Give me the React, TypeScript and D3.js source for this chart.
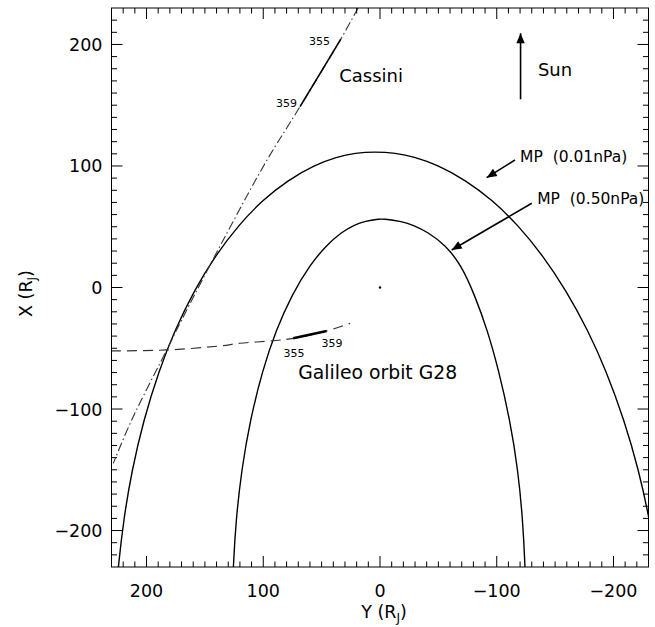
import React from 'react';
import * as d3 from 'd3';

// all positions below are [Y, X] in R_J (Y runs right-to-left)
// magnetopause for 0.01 nPa dynamic pressure
const mpLowPressure: [number, number][] = [
  [225.4, -244.8], [224.2, -230.0], [219.7, -191.3], [212.5, -150.2], [202.5, -109.0],
  [189.2, -67.9], [175.7, -35.0], [159.0, -2.1], [140.7, 26.7], [121.1, 51.4],
  [100.5, 72.0], [78.7, 88.5], [55.9, 100.8], [37.2, 107.4], [21.1, 110.7], [4.3, 111.8],
  [-13.1, 110.7], [-29.8, 107.4], [-49.3, 100.8], [-73.2, 88.5], [-96.1, 72.0],
  [-118.2, 51.4], [-139.2, 26.7], [-159.2, -2.1], [-178.0, -35.0], [-193.5, -67.9],
  [-209.2, -109.0], [-221.6, -150.2], [-231.0, -191.3], [-237.5, -230.0],
];
// magnetopause for 0.50 nPa
const mpHighPressure: [number, number][] = [
  [126.1, -244.8], [125.7, -230.0], [123.4, -191.3], [118.6, -150.2], [111.2, -109.0],
  [100.6, -67.9], [89.0, -35.0], [75.6, -6.2], [60.1, 18.5], [45.8, 34.9], [32.7, 45.7],
  [22.3, 51.4], [12.9, 54.7], [0, 56.4], [-2.6, 56.4], [-17.6, 54.7], [-28.6, 51.4],
  [-40.7, 45.7], [-56.1, 34.9], [-69.5, 18.5], [-81.1, -6.2], [-92.0, -35.0],
  [-101.6, -67.9], [-111.3, -109.0], [-118.2, -150.2], [-122.3, -191.3],
  [-124.3, -230.0], [-124.6, -244.8],
];
const cassiniOrbit: [number, number][] = [
  [18.8, 230.0], [33.7, 204.2], [68.5, 148.8], [96.8, 104.9], [131.1, 44.8],
  [169.9, -26.7], [182.7, -51.4], [212.7, -109.0], [228.5, -144.7],
];
const galileoOrbit: [number, number][] = [
  [230.4, -52.2], [182.7, -51.4], [137.0, -48.1], [120.0, -45.9], [91.4, -43.8],
  [74.3, -41.8], [45.7, -35.8], [25.7, -29.5],
];
// day-of-year marks along each track
const cassiniDays = [
  { day: '355', pos: [33.7, 204.2], dx: -10.7, dy: 5.7, anchor: 'end' },
  { day: '359', pos: [68.5, 148.8], dx: -3, dy: 0, anchor: 'end' },
];
const galileoDays = [
  { day: '355', pos: [74.3, -41.8], dx: 0.7, dy: 18.7, anchor: 'middle' },
  { day: '359', pos: [45.7, -35.8], dx: 5.3, dy: 16, anchor: 'middle' },
];
const majorTicks = [-200, -100, 0, 100, 200];

const W = 655, H = 627;
const FONT = 'DejaVu Sans';

function arrowHead(x1: number, y1: number, x2: number, y2: number, len = 10, half = 4) {
  const d = Math.hypot(x2 - x1, y2 - y1);
  const ux = (x2 - x1) / d, uy = (y2 - y1) / d;
  const bx = x2 - ux * len, by = y2 - uy * len;
  return `${x2},${y2} ${bx - uy * half},${by + ux * half} ${bx + uy * half},${by - ux * half}`;
}

export default function App() {
  const x = d3.scaleLinear().domain([230, -230]).range([111.5, 648.5]);
  const y = d3.scaleLinear().domain([-230, 230]).range([567, 8]);
  const [x0, x1] = x.range();
  const [y0, y1] = [y(230), y(-230)];

  const smooth = d3.line<[number, number]>()
    .x(d => x(d[0]))
    .y(d => y(d[1]))
    .curve(d3.curveBasis);
  const line = d3.line<[number, number]>()
    .x(d => x(d[0]))
    .y(d => y(d[1]))
    .curve(d3.curveCatmullRom.alpha(0.5));
  const straight = d3.line<[number, number]>().x(d => x(d[0])).y(d => y(d[1]));

  const minor = d3.range(-220, 230, 10);
  const tickLen = (v: number) => (v % 100 === 0 ? 11 : 5.5);
  const fmt = (v: number) => (v < 0 ? '\u2212' + Math.abs(v) : String(v));

  const arrows = [
    { from: [-120.4, 154.9], to: [-120.4, 209.2] },
    { from: [-115.6, 104.9], to: [-91.4, 90.4] },
    { from: [-130.0, 69.3], to: [-61.4, 30.9] },
  ];
  const notes = [
    { text: 'Cassini', pos: [34.9, 169.4], size: 18 },
    { text: 'Sun', pos: [-135.3, 174], size: 18 },
    { text: 'Galileo orbit G28', pos: [70, -75.3], size: 18.8 },
    { text: 'MP\u00a0\u00a0(0.01nPa)', pos: [-120, 103.5], size: 15.5 },
    { text: 'MP\u00a0\u00a0(0.50nPa)', pos: [-134.7, 68.7], size: 15.5 },
  ];

  return (
    <svg width={W} height={H} style={{ display: 'block', position: 'absolute', left: 0, top: 0 }}
      fontFamily={FONT}>
      <rect width={W} height={H} fill="#fff" />
      <defs>
        <clipPath id="plot">
          <rect x={x0} y={y0} width={x1 - x0} height={y1 - y0} />
        </clipPath>
      </defs>

      <g clipPath="url(#plot)" fill="none">
        <path d={smooth(mpLowPressure) || ''} stroke="#000" strokeWidth={1.4} />
        <path d={smooth(mpHighPressure) || ''} stroke="#000" strokeWidth={1.4} />
        <path d={line(cassiniOrbit) || ''} stroke="#333" strokeWidth={1.1} strokeDasharray="9,3,1.5,3" />
        <path d={straight(cassiniOrbit.slice(1, 3)) || ''} stroke="#000" strokeWidth={1.6} />
        <path d={line(galileoOrbit) || ''} stroke="#333" strokeWidth={1.2} strokeDasharray="10,6" />
        <path d={straight(galileoOrbit.slice(5, 7)) || ''} stroke="#000" strokeWidth={2.6} />
        <circle cx={x(0)} cy={y(0)} r={1.2} fill="#000" />
      </g>

      {cassiniDays.concat(galileoDays).map((d, i) => (
        <text key={'d' + i} x={x(d.pos[0]) + d.dx} y={y(d.pos[1]) + d.dy} fontSize={11}
          textAnchor={d.anchor as any}>{d.day}</text>
      ))}

      {arrows.map((a, i) => {
        const ax1 = x(a.from[0]), ay1 = y(a.from[1]), ax2 = x(a.to[0]), ay2 = y(a.to[1]);
        return (
          <g key={'a' + i}>
            <line x1={ax1} y1={ay1} x2={ax2} y2={ay2} stroke="#000" strokeWidth={1.6} />
            <polygon points={arrowHead(ax1, ay1, ax2, ay2, 10, 4.2)} fill="#000" />
          </g>
        );
      })}

      {notes.map((n, i) => (
        <text key={'n' + i} x={x(n.pos[0])} y={y(n.pos[1])} fontSize={n.size}>{n.text}</text>
      ))}

      {/* frame and ticks on all four sides */}
      <rect x={x0} y={y0} width={x1 - x0} height={y1 - y0} fill="none" stroke="#000" strokeWidth={1} />
      <g stroke="#000" strokeWidth={1}>
        {minor.map(v => (
          <g key={'t' + v}>
            <line x1={x(v)} x2={x(v)} y1={y1} y2={y1 - tickLen(v)} />
            <line x1={x(v)} x2={x(v)} y1={y0} y2={y0 + tickLen(v)} />
            <line x1={x0} x2={x0 + tickLen(v)} y1={y(v)} y2={y(v)} />
            <line x1={x1} x2={x1 - tickLen(v)} y1={y(v)} y2={y(v)} />
          </g>
        ))}
      </g>
      {majorTicks.map(v => (
        <g key={'l' + v} fontSize={17.5}>
          <text x={x(v)} y={y1 + 30} textAnchor="middle">{fmt(v)}</text>
          <text x={x0 - 9} y={y(v) + 6.5} textAnchor="end">{fmt(v)}</text>
        </g>
      ))}

      <text x={(x0 + x1) / 2 + 4} y={618} fontSize={17.5} textAnchor="middle">
        Y (R<tspan fontSize={12} dy={4}>J</tspan><tspan dy={-4}>)</tspan>
      </text>
      <text transform={`translate(31.5,${(y0 + y1) / 2 + 6}) rotate(-90)`} fontSize={17.5} textAnchor="middle">
        X (R<tspan fontSize={12} dy={4}>J</tspan><tspan dy={-4}>)</tspan>
      </text>
    </svg>
  );
}
